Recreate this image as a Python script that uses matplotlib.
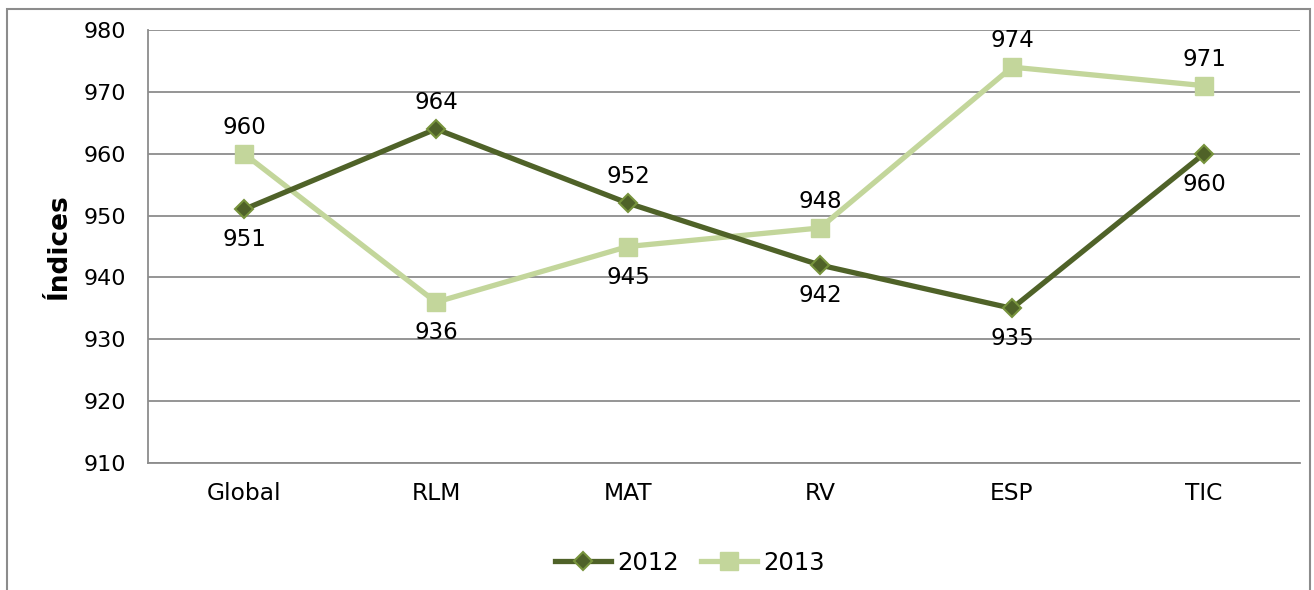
import numpy as np
import matplotlib.pyplot as plt
from matplotlib.patches import Rectangle

categorias = ['Global', 'RLM', 'MAT', 'RV', 'ESP', 'TIC']
v2012 = [951, 964, 952, 942, 935, 960]
v2013 = [960, 936, 945, 948, 974, 971]
# posicion de la etiqueta: 1 arriba, -1 abajo
pos2012 = [-1, 1, 1, -1, -1, -1]
pos2013 = [1, -1, -1, 1, 1, 1]

plt.rcParams['font.family'] = ['Verdana', 'DejaVu Sans']
plt.rcParams['font.size'] = 16

fig = plt.figure(figsize=(13.14, 5.9), dpi=100)
ax = fig.add_axes([148/1314, 1-463/590, 1152/1314, 433/590])

x = np.arange(len(categorias))
c12, c13 = '#4F6228', '#C3D69B'
ax.plot(x, v2012, color=c12, lw=3.8, marker='D', ms=9, mfc=c12, mec='#77933C', mew=1.5, label='2012', zorder=4)
ax.plot(x, v2013, color=c13, lw=3.8, marker='s', ms=13, mfc=c13, mec=c13, label='2013', zorder=3)

for vals, pos in [(v2012, pos2012), (v2013, pos2013)]:
    for xi, v, p in zip(x, vals, pos):
        dy = 19 if p > 0 else -22
        ax.annotate(str(v), (xi, v), xytext=(0, dy), textcoords='offset points',
                    ha='center', va='center', fontsize=16.5)

ax.set_xlim(-0.5, len(categorias) - 0.5)
ax.set_ylim(910, 980)
ax.set_yticks(np.arange(910, 981, 10))
ax.set_xticks(x)
ax.set_xticklabels(categorias, fontsize=16.8)
ax.tick_params(length=0)
ax.tick_params(axis='x', pad=14)
ax.tick_params(axis='y', pad=16)
ax.yaxis.grid(True, color='#8C8C8C', lw=1.3)
ax.set_axisbelow(True)
for s in ['top', 'right']:
    ax.spines[s].set_visible(False)
for s in ['left', 'bottom']:
    ax.spines[s].set_color('#8C8C8C')
    ax.spines[s].set_linewidth(1.3)
ax.set_ylabel('Índices', fontweight='bold', labelpad=8, fontsize=19)

fig.legend(loc='center', bbox_to_anchor=(690/1314, 1-563/590), ncol=2, frameon=False,
           handlelength=2.3, columnspacing=0.9, handletextpad=0.25, fontsize=17.5)

fig.patches.append(Rectangle((7/1314, -0.1), 1303/1314, 1.1 - 9/590, transform=fig.transFigure,
                             fill=False, edgecolor='#8C8C8C', lw=1.5))

fig.savefig('out.png', dpi=100)
